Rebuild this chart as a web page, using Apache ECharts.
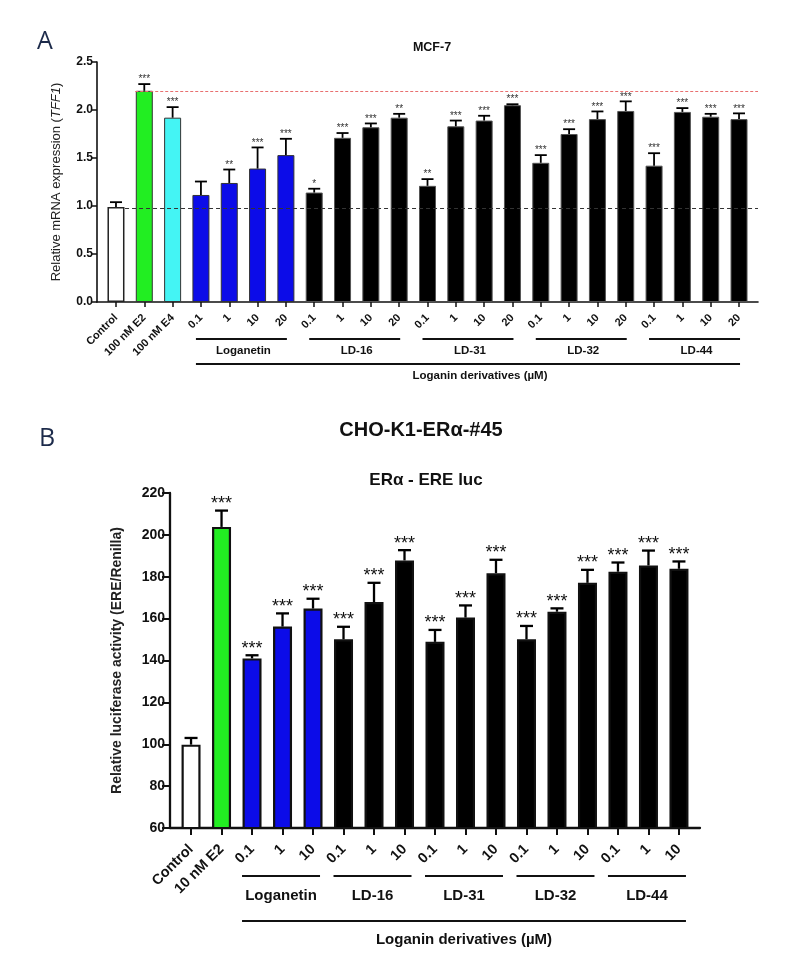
<!DOCTYPE html>
<html><head><meta charset="utf-8">
<script src="https://cdn.jsdelivr.net/npm/echarts@6/dist/echarts.min.js"></script>
<style>html,body{margin:0;padding:0;background:#fff}#c{width:799px;height:966px}</style>
</head><body><div id="c"></div><script>
// ---------- Panel A: MCF-7, TFF1 mRNA ----------
const catsA = ['Control','100 nM E2','100 nM E4','0.1','1','10','20','0.1','1','10','20','0.1','1','10','20','0.1','1','10','20','0.1','1','10','20'];
const valsA = [0.99,2.20,1.92,1.115,1.24,1.39,1.53,1.14,1.71,1.82,1.92,1.21,1.83,1.89,2.05,1.45,1.75,1.905,1.99,1.42,1.98,1.93,1.905];
const errA  = [0.05,0.07,0.11,0.14,0.14,0.22,0.17,0.04,0.05,0.04,0.04,0.07,0.06,0.05,0.01,0.08,0.05,0.08,0.10,0.13,0.04,0.03,0.06];
const starsA = ['','***','***','','**','***','***','*','***','***','**','**','***','***','***','***','***','***','***','***','***','***','***'];
const groupsA = [['Loganetin',3,6],['LD-16',7,10],['LD-31',11,14],['LD-32',15,18],['LD-44',19,22]];
const yTicksA = [0,0.5,1.0,1.5,2.0,2.5];

// ---------- Panel B: CHO-K1-ERα-#45, ERE luc ----------
const catsB = ['Control','10 nM E2','0.1','1','10','0.1','1','10','0.1','1','10','0.1','1','10','0.1','1','10'];
const valsB = [99.8,203.8,141.0,156.2,164.8,150.1,167.9,187.8,148.9,160.5,181.7,150.1,163.3,177.1,182.4,185.4,183.8];
const errB  = [3.2,7.8,1.5,6.3,4.7,6.0,9.2,4.9,5.7,5.8,6.4,6.4,1.6,6.2,4.4,7.1,3.5];
const starsB = ['','***','***','***','***','***','***','***','***','***','***','***','***','***','***','***','***'];
const groupsB = [['Loganetin',2,4],['LD-16',5,7],['LD-31',8,10],['LD-32',11,13],['LD-44',14,16]];
const yTicksB = [60,80,100,120,140,160,180,200,220];

const FONT = '"Liberation Sans", Arial, Helvetica, sans-serif';
const GREEN = '#22ee22', CYAN = '#44f4f4', BLUE = '#0c0ce8', BLACK = '#000000';

function fillA(i){ return i===0?'#ffffff':i===1?GREEN:i===2?CYAN:i<=6?BLUE:BLACK; }
function fillB(i){ return i===0?'#ffffff':i===1?GREEN:i<=4?BLUE:BLACK; }

const idxA = catsA.map((_,i)=>i);
const idxB = catsB.map((_,i)=>i);
const xMinA = -0.67, xMaxA = 22.67;
const xMinB = -0.69, xMaxB = 16.69;

function errRenderer(stars, capHalf, lw, gap, fs, col){
  return function(params, api){
    const x = api.value(0), m = api.value(1), e = api.value(2);
    const p0 = api.coord([x, m]), p1 = api.coord([x, m + e]);
    const ch = [
      {type:'line', shape:{x1:p0[0], y1:p0[1], x2:p1[0], y2:p1[1]}, style:{stroke:'#000', lineWidth:lw}},
      {type:'line', shape:{x1:p1[0]-capHalf, y1:p1[1], x2:p1[0]+capHalf, y2:p1[1]}, style:{stroke:'#000', lineWidth:lw}}
    ];
    const s = stars[params.dataIndex];
    if (s) ch.push({type:'text', style:{text:s, x:p1[0], y:p1[1]-gap, align:'center', verticalAlign:'middle',
      fontSize: fs, fontFamily: FONT, fill: col}});
    return {type:'group', children: ch};
  };
}

const option = {
  animation:false,
  backgroundColor:'#ffffff',
  title:[
    {text:'A', left:32, top:24, textStyle:{fontFamily:'Open Sans, Noto Sans, sans-serif', fontSize:25, fontWeight:'normal', color:'#1c2a4a'}},
    {text:'MCF-7', left:427, top:36, textAlign:'center', textStyle:{fontFamily:FONT, fontSize:12.5, fontWeight:'bold', color:'#111'}},
    {text:'B', left:34, top:421, textStyle:{fontFamily:'Open Sans, Noto Sans, sans-serif', fontSize:25, fontWeight:'normal', color:'#1c2a4a'}},
    {text:'CHO-K1-ERα-#45', left:416, top:415, textAlign:'center', textStyle:{fontFamily:FONT, fontSize:20, fontWeight:'bold', color:'#111'}},
    {text:'ERα - ERE luc', left:421, top:467, textAlign:'center', textStyle:{fontFamily:FONT, fontSize:17, fontWeight:'bold', color:'#111'}}
  ],
  grid:[
    {left:97, top:62, width:661, height:240},
    {left:170, top:493, width:530, height:335}
  ],
  xAxis:[
    {type:'value', gridIndex:0, min:xMinA, max:xMaxA, splitLine:{show:false},
     axisLine:{onZero:false, lineStyle:{color:'#111', width:1.6}},
     axisTick:{customValues:idxA, length:5, lineStyle:{color:'#111', width:1.5}},
     axisLabel:{customValues:idxA, rotate:45, margin:14, formatter:v=>catsA[Math.round(v)],
       fontFamily:FONT, fontSize:11, fontWeight:'bold', color:'#111'}},
    {type:'value', gridIndex:1, min:xMinB, max:xMaxB, splitLine:{show:false},
     axisLine:{onZero:false, lineStyle:{color:'#111', width:2.3}},
     axisTick:{customValues:idxB, length:7, lineStyle:{color:'#111', width:2}},
     axisLabel:{customValues:idxB, rotate:45, margin:19, formatter:v=>catsB[Math.round(v)],
       fontFamily:FONT, fontSize:14.5, fontWeight:'bold', color:'#111'}}
  ],
  yAxis:[
    {type:'value', gridIndex:0, min:0, max:2.5, interval:0.5, splitLine:{show:false},
     axisLine:{show:true, onZero:false, lineStyle:{color:'#111', width:1.6}},
     axisTick:{show:true, length:5, lineStyle:{color:'#111', width:1.5}},
     axisLabel:{margin:4, formatter:v=>v.toFixed(1), fontFamily:FONT, fontSize:12, fontWeight:'bold', color:'#111'},
     name:'Relative mRNA expression ({i|TFF1})', nameLocation:'middle', nameGap:34,
     nameTextStyle:{fontFamily:FONT, fontSize:13, color:'#222', rich:{i:{fontFamily:FONT, fontSize:13, fontStyle:'italic', color:'#222'}}}},
    {type:'value', gridIndex:1, min:60, max:220, interval:20, splitLine:{show:false},
     axisLine:{show:true, onZero:false, lineStyle:{color:'#111', width:2.3}},
     axisTick:{show:true, length:8, lineStyle:{color:'#111', width:2}},
     axisLabel:{margin:5, fontFamily:FONT, fontSize:14, fontWeight:'bold', color:'#111'},
     name:'Relative luciferase activity (ERE/Renilla)', nameLocation:'middle', nameGap:46,
     nameTextStyle:{fontFamily:FONT, fontSize:14, fontWeight:'bold', color:'#222'}}
  ],
  series:[
    {type:'bar', xAxisIndex:0, yAxisIndex:0, barWidth:17, z:2,
     data: valsA.map((v,i)=>({value:[i,v], itemStyle:{color:fillA(i), borderColor: i===0?'#222':(i>=7?'#555':'#333'), borderWidth: i===0?1.5:1}})),
     markLine:{silent:true, symbol:'none', label:{show:false}, z:5,
       data:[
         [{coord:[1-0.32, valsA[1]], lineStyle:{color:'#e87070', width:1, type:[3,2]}}, {coord:[xMaxA, valsA[1]]}],
         [{coord:[0.32, 0.98], lineStyle:{color:'#333', width:1, type:[4,3]}}, {coord:[xMaxA, 0.98]}]
       ]}},
    {type:'custom', xAxisIndex:0, yAxisIndex:0, z:3,
     renderItem: errRenderer(starsA, 6, 1.8, 4.5, 10, '#333'),
     data: valsA.map((v,i)=>[i, v, errA[i]])},
    {type:'bar', xAxisIndex:1, yAxisIndex:1, barWidth:19, z:2,
     data: valsB.map((v,i)=>({value:[i,v], itemStyle:{color:fillB(i), borderColor:'#111', borderWidth:2.2}})),
     markLine:{silent:true, symbol:'none', label:{show:false}, z:5,
       data:[
         [{coord:[1-0.3, valsB[1]], lineStyle:{color:'#e8343c', width:2, type:[6,4]}}, {coord:[xMaxB+0.25, valsB[1]]}],
         [{coord:[0.37, 99.6], lineStyle:{color:'#111', width:2, type:[6,5]}}, {coord:[xMaxB+0.17, 99.6]}]
       ]}},
    {type:'custom', xAxisIndex:1, yAxisIndex:1, z:3,
     renderItem: errRenderer(starsB, 6.5, 2.3, 6.5, 18, '#111'),
     data: valsB.map((v,i)=>[i, v, errB[i]])}
  ]
};

const chart = echarts.init(document.getElementById('c'), null, {renderer:'canvas'});
chart.setOption(option);

// group brackets under the x axes, positioned from the axis scale
function gx(axisIdx, v){ return chart.convertToPixel({xAxisIndex:axisIdx}, v); }
const g = [];
function hline(x1, x2, y, w){ g.push({type:'line', shape:{x1:x1, y1:y, x2:x2, y2:y}, style:{stroke:'#111', lineWidth:w}}); }
function label(txt, x, y, fs){ g.push({type:'text', style:{text:txt, x:x, y:y, align:'center', verticalAlign:'middle', fontSize:fs, fontWeight:'bold', fontFamily:FONT, fill:'#111'}}); }

groupsA.forEach(([name,a,b])=>{
  const x1 = gx(0,a)-5, x2 = gx(0,b)+1;
  hline(x1, x2, 339, 2);
  label(name, (x1+x2)/2+2, 351, 11.5);
});
{
  const x1 = gx(0,groupsA[0][1])-5, x2 = gx(0,groupsA[groupsA.length-1][2])+1;
  hline(x1, x2, 364, 2);
  label('Loganin derivatives (µM)', (x1+x2)/2+12, 376, 11.5);
}
groupsB.forEach(([name,a,b])=>{
  const x1 = gx(1,a)-10, x2 = gx(1,b)+7;
  hline(x1, x2, 876, 2.2);
  label(name, (x1+x2)/2, 896, 15);
});
{
  const x1 = gx(1,groupsB[0][1])-10, x2 = gx(1,groupsB[groupsB.length-1][2])+7;
  hline(x1, x2, 921, 2.2);
  label('Loganin derivatives (µM)', (x1+x2)/2, 940, 15);
}
chart.setOption({graphic:{elements:g}});
</script></body></html>
